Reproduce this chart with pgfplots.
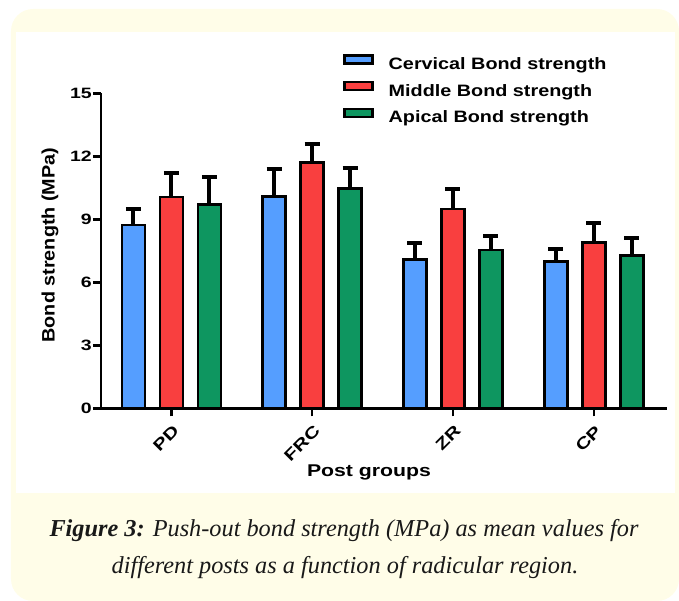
\documentclass[border=0pt]{standalone}
\usepackage{pgfplots}
\pgfplotsset{compat=1.18}
\usepackage{fontspec}
\setmainfont{Liberation Sans}
\newfontfamily\legfont[FakeStretch=1.2]{Liberation Sans}
\newfontfamily\labfont[FakeStretch=1.1]{Liberation Sans}
\newfontfamily\xlabfont[FakeStretch=1.25]{Liberation Sans}
\newfontfamily\tickfont[FakeStretch=1.3]{Liberation Sans}
\newfontfamily\capfont{Liberation Serif}
\definecolor{cream}{HTML}{FFFDE8}
\definecolor{cblue}{HTML}{559EFF}
\definecolor{cred}{HTML}{F93F3F}
\definecolor{cgreen}{HTML}{0E9660}
\begin{document}
\begin{tikzpicture}
\path (-101pt,-192.7pt) rectangle (578pt,408.3pt);
\fill[cream, rounded corners=22pt] (-90pt,-192.7pt) rectangle (578pt,399.3pt);
\fill[white] (-85pt,-84.7pt) rectangle (574pt,376.3pt);
\begin{axis}[
  at={(0pt,0pt)}, anchor=south west,
  width=566pt, height=315pt, scale only axis,
  xmin=-0.5, xmax=3.52, ymin=0, ymax=15,
  axis x line*=bottom, axis y line*=left,
  axis line style={line width=2.5pt, -},
  xtick={0,1,2,3}, xticklabels={PD,FRC,ZR,CP},
  ytick={0,3,6,9,12,15},
  tick align=outside, major tick length=8pt,
  tick style={line width=2.5pt, black},
  /pgf/number format/assume math mode=true,
  yticklabel style={font=\tickfont\bfseries\fontsize{15}{15}\selectfont, inner sep=1pt},
  xticklabel style={font=\tickfont\bfseries\fontsize{16}{16}\selectfont, rotate=45, anchor=east, inner sep=1pt, xshift=-4pt, yshift=-12pt},
  xlabel={Post groups},
  ylabel={Bond strength (MPa)},
  xlabel style={font=\xlabfont\bfseries\fontsize{17}{17}\selectfont, at={(axis description cs:0.4735,-0.204)}, anchor=center},
  ylabel style={font=\labfont\bfseries\fontsize{18}{18}\selectfont, at={(axis description cs:-0.090,0.518)}, anchor=center},
  ybar=15pt, bar width=23pt,
  every axis plot/.append style={draw=black, line width=2.5pt},
  error bars/y dir=plus, error bars/y explicit,
  error bars/error bar style={line width=4pt, black},
  error bars/error mark options={rotate=90, mark size=7.5pt, line width=4pt, black},
  legend image code/.code={\draw[#1, line width=2.5pt] (0pt,2pt) rectangle (28pt,10pt); \path[draw=none,fill=none] (0pt,0pt) -- (44pt,0pt);},
  legend style={at={(axis description cs:0.428,1.125)}, anchor=north west, draw=none, fill=none, inner sep=0pt,
    font=\legfont\bfseries\fontsize{16.5}{16.5}\selectfont,
    nodes={inner sep=0pt, text height=12pt, text depth=4pt}, row sep=7.5pt},
  legend cell align=left,
]
\addplot[fill=cblue] coordinates {(0,8.72) +- (0,0.77) (1,10.08) +- (0,1.30) (2,7.09) +- (0,0.77) (3,6.98) +- (0,0.61)};
\addplot[fill=cred] coordinates {(0,10.05) +- (0,1.17) (1,11.70) +- (0,0.89) (2,9.48) +- (0,0.96) (3,7.90) +- (0,0.94)};
\addplot[fill=cgreen] coordinates {(0,9.70) +- (0,1.30) (1,10.46) +- (0,0.97) (2,7.53) +- (0,0.69) (3,7.28) +- (0,0.82)};
\legend{Cervical Bond strength, Middle Bond strength, Apical Bond strength}
\end{axis}
\node[font=\capfont\fontsize{24.3}{24.3}\selectfont\itshape, text=black!90] at (243pt,-122.7pt) {\textbf{Figure 3:} Push-out bond strength (MPa) as mean values for};
\node[font=\capfont\fontsize{24.3}{24.3}\selectfont\itshape, text=black!90] at (244pt,-159.7pt) {different posts as a function of radicular region.};
\end{tikzpicture}
\end{document}
